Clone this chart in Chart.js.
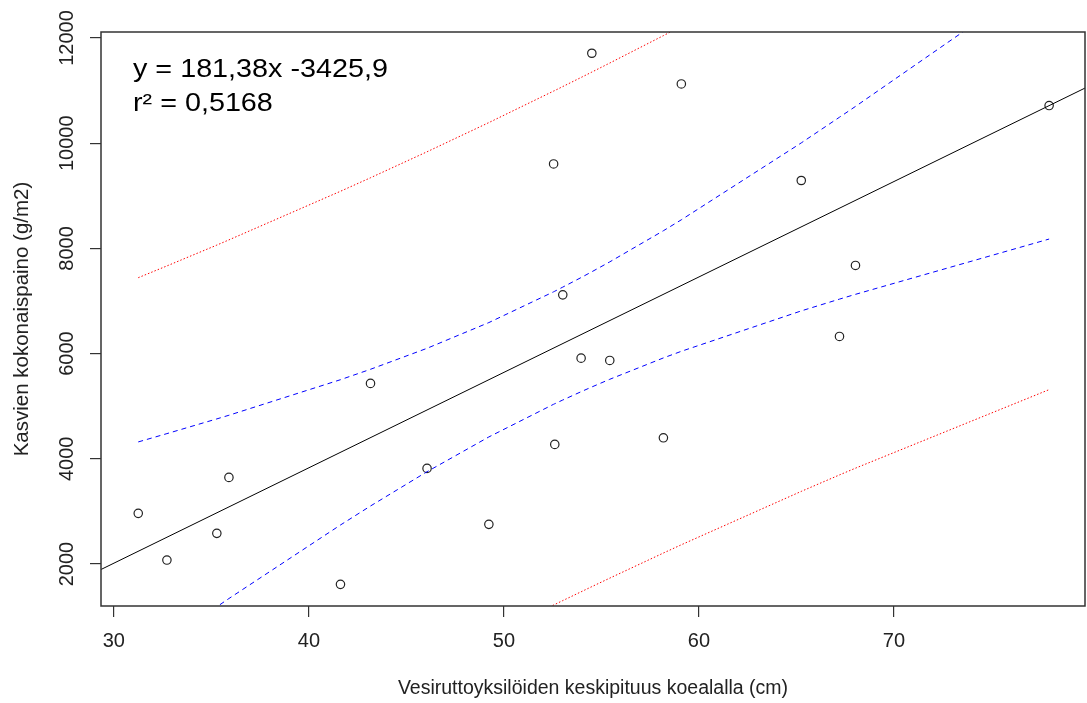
<!DOCTYPE html>
<html>
<head>
<meta charset="utf-8">
<title>Vesirutto</title>
<script src="https://cdn.jsdelivr.net/npm/chart.js@4/dist/chart.umd.min.js"></script>
<style>
  html, body { margin: 0; padding: 0; background: #fff; }
  #wrap { width: 1087px; height: 703px; }
</style>
</head>
<body>
<div id="wrap"><canvas id="chart" width="1087" height="703"></canvas></div>
<script>
// ------------- DATA -------------
// observations: mean plant length (cm) vs. total plant weight (g/m2)
const obsX = [31.25, 32.72, 35.28, 35.90, 41.62, 43.16, 46.06, 49.23, 52.55, 52.61,
              53.02, 53.96, 54.51, 55.43, 58.18, 59.10, 65.25, 67.21, 68.03, 77.96];
const obsY = [2963, 2076, 2583, 3647, 1614, 5434, 3818, 2754, 9606, 4274,
              7117, 5914, 11710, 5870, 4400, 11126, 9291, 6326, 7676, 10716];

// fitted line, end points at the plot edges
const fitX = [29.34, 79.80];
const fitY = [1896, 11048];

// confidence (blue) and prediction (red) bands, sampled at the sorted x values
const bandX = obsX;
const confUpper = [4321, 4479, 4759, 4828, 5504, 5702, 6101, 6590, 7175, 7186,
                   7264, 7446, 7556, 7744, 8336, 8544, 10006, 10494, 10699, 13252];
const confLower = [163, 539, 1187, 1344, 2742, 3103, 3755, 4416, 5037, 5047,
                   5118, 5276, 5366, 5512, 5918, 6044, 6812, 7036, 7127, 8178];
const predUpper = [7443, 7667, 8063, 8162, 9086, 9343, 9837, 10392, 10991, 11001,
                   11077, 11250, 11352, 11524, 12045, 12222, 13437, 13836, 14004, 16115];
const predLower = [-2959, -2649, -2117, -1990, -840, -539, 20, 614, 1221, 1231,
                   1305, 1472, 1570, 1732, 2209, 2366, 3381, 3694, 3822, 5315];

const xTicks = [30, 40, 50, 60, 70];
const yTicks = [2000, 4000, 6000, 8000, 10000, 12000];
const xRange = [29.34, 79.80];
const yRange = [1202, 12114];

const eqText = ["y = 181,38x -3425,9", "r\u00B2 = 0,5168"];
const xTitle = "Vesiruttoyksilöiden keskipituus koealalla (cm)";
const yTitle = "Kasvien kokonaispaino (g/m2)";

// ------------- helpers -------------
const FONT = "'Liberation Sans', Arial, sans-serif";
const AXIS_COL = "#333";

function pts(xs, ys){
  return xs.map((x, i) => ({ x: x, y: ys[i] }));
}

function lineSet(xs, ys, color, dash){
  return {
    type: 'line',
    data: pts(xs, ys),
    borderColor: color,
    borderWidth: 1,
    borderDash: dash,
    pointRadius: 0,
    fill: false,
    tension: 0
  };
}

// box round the plot + equation text (text is a bit wider than normal in the original)
const extras = {
  id: 'extras',
  afterDraw(chart){
    const { ctx, chartArea: a } = chart;
    ctx.save();
    ctx.strokeStyle = AXIS_COL;
    ctx.lineWidth = 1.5;
    ctx.strokeRect(a.left, a.top, a.right - a.left, a.bottom - a.top);
    ctx.fillStyle = "#000";
    ctx.font = "25px " + FONT;
    ctx.textBaseline = "alphabetic";
    ctx.translate(a.left + 32, 0);
    ctx.scale(1.15, 1);
    ctx.fillText(eqText[0], 0, 77);
    ctx.fillText(eqText[1], 0, 111);
    ctx.restore();
  }
};

function initChart(){
  const ctx = document.getElementById('chart').getContext('2d');
  new Chart(ctx, {
    type: 'scatter',
    data: {
      datasets: [
        lineSet(bandX, predUpper, '#ff0000', [1.5, 2]),
        lineSet(bandX, predLower, '#ff0000', [1.5, 2]),
        lineSet(bandX, confUpper, '#0000ff', [5, 4]),
        lineSet(bandX, confLower, '#0000ff', [5, 4]),
        lineSet(fitX, fitY, '#000000', []),
        {
          data: pts(obsX, obsY),
          pointStyle: 'circle',
          pointRadius: 4.2,
          pointBorderWidth: 1.2,
          pointBorderColor: '#222',
          pointBackgroundColor: 'rgba(0,0,0,0)',
          showLine: false
        }
      ]
    },
    options: {
      responsive: false,
      animation: false,
      devicePixelRatio: 1,
      layout: { autoPadding: false, padding: { top: 32, right: 2, left: 0, bottom: 0 } },
      plugins: { legend: { display: false }, tooltip: { enabled: false } },
      scales: {
        x: {
          type: 'linear',
          min: xRange[0], max: xRange[1],
          afterBuildTicks: s => { s.ticks = xTicks.map(v => ({ value: v })); },
          afterFit: s => { s.height = 97; },
          border: { display: false },
          grid: { drawOnChartArea: false, drawTicks: true, tickLength: 11, color: AXIS_COL, lineWidth: 1.2 },
          ticks: { color: '#222', padding: 12, font: { family: FONT, size: 20 }, maxRotation: 0 },
          title: { display: true, text: xTitle, color: '#222', font: { family: FONT, size: 19.5 }, padding: { top: 0, bottom: 3 } }
        },
        y: {
          type: 'linear',
          min: yRange[0], max: yRange[1],
          afterBuildTicks: s => { s.ticks = yTicks.map(v => ({ value: v })); },
          afterFit: s => { s.width = 101; },
          border: { display: false },
          grid: { drawOnChartArea: false, drawTicks: true, tickLength: 11, color: AXIS_COL, lineWidth: 1.2 },
          ticks: { color: '#222', padding: -5, crossAlign: 'center', minRotation: 90, maxRotation: 90,
                   font: { family: FONT, size: 20 }, callback: v => String(v) },
          title: { display: true, text: yTitle, color: '#222', font: { family: FONT, size: 20.5 }, padding: { top: 10, bottom: 0 } }
        }
      }
    },
    plugins: [extras]
  });
}

window.addEventListener('load', initChart);
</script>
</body>
</html>
